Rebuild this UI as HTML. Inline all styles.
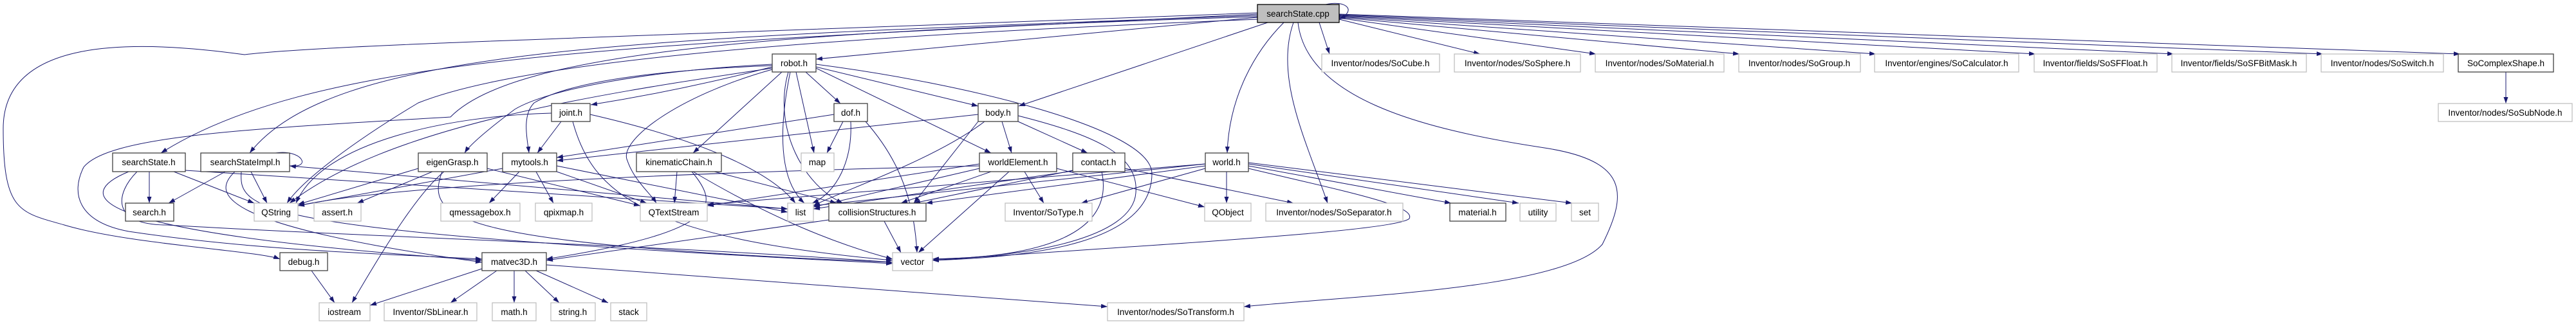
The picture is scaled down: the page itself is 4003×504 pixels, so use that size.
<!DOCTYPE html>
<html><head><meta charset="utf-8"><style>
html,body{margin:0;padding:0;background:#fff;}
svg{display:block;}
text{font-family:"Liberation Sans",sans-serif;font-size:13.5px;fill:#000;text-anchor:middle;}
.e{fill:none;stroke:#191970;stroke-width:1;marker-end:url(#a);}
.b{fill:#fff;stroke:#404040;stroke-width:1.3;}
.g{fill:#fff;stroke:#bfbfbf;stroke-width:1.3;}
</style></head><body>
<svg width="4003" height="504" viewBox="0 0 4003 504" xmlns="http://www.w3.org/2000/svg">
<defs><marker id="a" markerWidth="10" markerHeight="7" refX="10" refY="3.5" orient="auto" markerUnits="userSpaceOnUse"><path d="M0,0 L10,3.5 L0,7 z" fill="#191970"/></marker></defs>
<g>
<path class="e" d="M2050 35 L2066 84"/>
<path class="e" d="M2081 30 L2300 84"/>
<path class="e" d="M2081 28 L2480 84"/>
<path class="e" d="M2081 27 L2703 84"/>
<path class="e" d="M2081 26 L2915 84"/>
<path class="e" d="M2081 25 L3163 84"/>
<path class="e" d="M2081 24 L3378 84"/>
<path class="e" d="M2081 23 L3610 84"/>
<path class="e" d="M2081 22 L3823 84"/>
<path class="e" d="M3894 112 L3894 161"/>
<path class="e" d="M2060 7 C2090 0 2110 15 2081 30"/>
<path class="e" d="M1954 27 L1268 92"/>
<path class="e" d="M1970 35 L1583 165"/>
<path class="e" d="M1995 35 C1950 80 1910 150 1907 238"/>
<path class="e" d="M2010 35 C1980 120 2030 220 2063 316"/>
<path class="e" d="M2017 35 C2030 150 2200 200 2400 230 C2530 250 2530 300 2490 380 C2430 450 2100 460 1933 477"/>
<path class="e" d="M1954 22 C1000 70 500 80 250 238"/>
<path class="e" d="M1954 24 C1000 60 520 70 388 238"/>
<path class="e" d="M1954 20 C900 60 500 70 380 85 C200 60 5 60 5 200 C5 330 30 330 100 350 C200 380 400 390 435 403"/>
<path class="e" d="M1954 26 C1200 50 800 80 700 182 C400 200 170 210 130 260 C110 300 120 345 200 360 C400 390 600 395 749 403"/>
<path class="e" d="M1954 30 C1200 60 800 100 650 160 C550 220 470 280 446 316"/>
<path class="e" d="M1200 104 C1100 130 1000 150 918 163"/>
<path class="e" d="M1200 100 C1000 110 850 140 800 170 C760 200 730 225 722 238"/>
<path class="e" d="M1200 102 C1000 110 880 130 830 160 C810 180 820 220 822 238"/>
<path class="e" d="M1200 106 C900 150 600 200 450 316"/>
<path class="e" d="M1215 112 L1077 238"/>
<path class="e" d="M1237 112 L1265 238"/>
<path class="e" d="M1252 112 L1306 161"/>
<path class="e" d="M1228 112 C1210 200 1210 280 1250 316"/>
<path class="e" d="M1225 112 C1200 200 1250 290 1310 316"/>
<path class="e" d="M1200 108 C1050 150 960 220 975 250 C985 280 1010 300 1020 316"/>
<path class="e" d="M1268 100 C1500 130 1790 200 1790 270 C1790 380 1600 400 1449 405"/>
<path class="e" d="M1268 106 L1540 238"/>
<path class="e" d="M1268 104 L1520 165"/>
<path class="e" d="M872 189 L835 238"/>
<path class="e" d="M857 176 C700 180 500 220 460 316"/>
<path class="e" d="M917 178 C1100 220 1200 270 1236 316"/>
<path class="e" d="M890 189 C920 300 1000 370 1387 405"/>
<path class="e" d="M1310 189 L1285 238"/>
<path class="e" d="M1322 189 C1325 250 1300 300 1262 316"/>
<path class="e" d="M1296 178 L865 245"/>
<path class="e" d="M1345 189 C1390 240 1420 300 1425 393"/>
<path class="e" d="M1557 189 L1572 238"/>
<path class="e" d="M1582 189 L1690 238"/>
<path class="e" d="M1530 189 C1450 250 1300 300 1264 320"/>
<path class="e" d="M1520 189 L1420 316"/>
<path class="e" d="M1582 180 C1700 210 1770 240 1765 300 C1760 370 1600 400 1449 403"/>
<path class="e" d="M1520 178 L865 250"/>
<path class="e" d="M1592 267 L1622 316"/>
<path class="e" d="M1568 267 L1427 393"/>
<path class="e" d="M1540 267 L1400 316"/>
<path class="e" d="M1522 255 L1099 320"/>
<path class="e" d="M1522 258 C1000 270 600 290 463 320"/>
<path class="e" d="M1642 262 L1872 322"/>
<path class="e" d="M1522 262 L1264 322"/>
<path class="e" d="M1667 265 L1420 316"/>
<path class="e" d="M1712 267 C1730 350 1650 400 1449 403"/>
<path class="e" d="M1748 262 L2010 316"/>
<path class="e" d="M1667 266 L1264 325"/>
<path class="e" d="M1906 267 L1906 316"/>
<path class="e" d="M1873 262 L1680 316"/>
<path class="e" d="M1940 258 L2255 316"/>
<path class="e" d="M1940 255 L2360 316"/>
<path class="e" d="M1940 253 L2443 316"/>
<path class="e" d="M1940 262 C2100 300 2200 320 2190 340 C2170 360 1800 380 1449 405"/>
<path class="e" d="M1873 255 L1264 320"/>
<path class="e" d="M1873 258 L1439 316"/>
<path class="e" d="M1873 255 L1099 318"/>
<path class="e" d="M1052 267 L1048 316"/>
<path class="e" d="M1075 267 C1120 320 1120 360 849 403"/>
<path class="e" d="M1077 267 C1200 340 1300 380 1387 403"/>
<path class="e" d="M1110 267 L1300 316"/>
<path class="e" d="M807 267 L760 316"/>
<path class="e" d="M833 267 L860 316"/>
<path class="e" d="M865 267 L1005 316"/>
<path class="e" d="M781 262 L463 320"/>
<path class="e" d="M865 258 L1224 330"/>
<path class="e" d="M650 262 L463 318"/>
<path class="e" d="M672 267 L555 316"/>
<path class="e" d="M690 267 C650 300 600 380 547 471"/>
<path class="e" d="M687 267 C660 340 700 380 1387 408"/>
<path class="e" d="M757 262 L995 320"/>
<path class="e" d="M232 267 L232 316"/>
<path class="e" d="M270 267 L395 316"/>
<path class="e" d="M288 265 L1224 325"/>
<path class="e" d="M200 267 C120 300 100 360 749 405"/>
<path class="e" d="M213 267 C180 300 170 350 260 350 C600 370 1000 380 1387 408"/>
<path class="e" d="M428 238 C470 232 485 262 450 258"/>
<path class="e" d="M350 267 L262 316"/>
<path class="e" d="M390 267 L415 316"/>
<path class="e" d="M450 258 L1224 325"/>
<path class="e" d="M375 267 C370 330 400 360 1387 410"/>
<path class="e" d="M365 267 C330 300 330 350 749 408"/>
<path class="e" d="M1374 344 L1400 393"/>
<path class="e" d="M1288 342 L849 405"/>
<path class="e" d="M749 418 L575 475"/>
<path class="e" d="M772 421 L700 471"/>
<path class="e" d="M799 421 L799 471"/>
<path class="e" d="M816 421 L869 471"/>
<path class="e" d="M833 421 L945 471"/>
<path class="e" d="M849 412 L1721 477"/>
<path class="e" d="M484 421 L520 471"/>
</g>
<g>
<rect x="1954" y="7" width="127" height="28" fill="#bfbfbf" stroke="#000" stroke-width="1.3"/><text x="2017" y="26">searchState.cpp</text>
<rect class="b" x="1200" y="84" width="68" height="28"/><text x="1234" y="103">robot.h</text>
<rect class="g" x="2054" y="84" width="183" height="28"/><text x="2145" y="103">Inventor/nodes/SoCube.h</text>
<rect class="g" x="2260" y="84" width="196" height="28"/><text x="2358" y="103">Inventor/nodes/SoSphere.h</text>
<rect class="g" x="2479" y="84" width="200" height="28"/><text x="2579" y="103">Inventor/nodes/SoMaterial.h</text>
<rect class="g" x="2702" y="84" width="189" height="28"/><text x="2796" y="103">Inventor/nodes/SoGroup.h</text>
<rect class="g" x="2913" y="84" width="224" height="28"/><text x="3025" y="103">Inventor/engines/SoCalculator.h</text>
<rect class="g" x="3161" y="84" width="191" height="28"/><text x="3256" y="103">Inventor/fields/SoSFFloat.h</text>
<rect class="g" x="3375" y="84" width="209" height="28"/><text x="3479" y="103">Inventor/fields/SoSFBitMask.h</text>
<rect class="g" x="3607" y="84" width="190" height="28"/><text x="3702" y="103">Inventor/nodes/SoSwitch.h</text>
<rect class="b" x="3820" y="84" width="148" height="28"/><text x="3894" y="103">SoComplexShape.h</text>
<rect class="b" x="857" y="161" width="60" height="28"/><text x="887" y="180">joint.h</text>
<rect class="b" x="1296" y="161" width="52" height="28"/><text x="1322" y="180">dof.h</text>
<rect class="b" x="1520" y="161" width="62" height="28"/><text x="1551" y="180">body.h</text>
<rect class="g" x="3789" y="161" width="208" height="28"/><text x="3893" y="180">Inventor/nodes/SoSubNode.h</text>
<rect class="b" x="175" y="238" width="113" height="29"/><text x="231" y="257">searchState.h</text>
<rect class="b" x="312" y="238" width="138" height="29"/><text x="381" y="257">searchStateImpl.h</text>
<rect class="b" x="650" y="238" width="107" height="29"/><text x="703" y="257">eigenGrasp.h</text>
<rect class="b" x="781" y="238" width="84" height="29"/><text x="823" y="257">mytools.h</text>
<rect class="b" x="989" y="238" width="132" height="29"/><text x="1055" y="257">kinematicChain.h</text>
<rect class="g" x="1245" y="238" width="51" height="29"/><text x="1270" y="257">map</text>
<rect class="b" x="1522" y="238" width="120" height="29"/><text x="1582" y="257">worldElement.h</text>
<rect class="b" x="1667" y="238" width="81" height="29"/><text x="1707" y="257">contact.h</text>
<rect class="b" x="1873" y="238" width="67" height="29"/><text x="1906" y="257">world.h</text>
<rect class="b" x="195" y="316" width="75" height="28"/><text x="232" y="335">search.h</text>
<rect class="g" x="395" y="316" width="68" height="28"/><text x="429" y="335">QString</text>
<rect class="g" x="488" y="316" width="73" height="28"/><text x="524" y="335">assert.h</text>
<rect class="g" x="685" y="316" width="123" height="28"/><text x="746" y="335">qmessagebox.h</text>
<rect class="g" x="832" y="316" width="88" height="28"/><text x="876" y="335">qpixmap.h</text>
<rect class="g" x="995" y="316" width="104" height="28"/><text x="1047" y="335">QTextStream</text>
<rect class="g" x="1224" y="316" width="40" height="28"/><text x="1244" y="335">list</text>
<rect class="b" x="1288" y="316" width="151" height="28"/><text x="1363" y="335">collisionStructures.h</text>
<rect class="g" x="1562" y="316" width="135" height="28"/><text x="1629" y="335">Inventor/SoType.h</text>
<rect class="g" x="1872" y="316" width="72" height="28"/><text x="1908" y="335">QObject</text>
<rect class="g" x="1967" y="316" width="213" height="28"/><text x="2073" y="335">Inventor/nodes/SoSeparator.h</text>
<rect class="b" x="2253" y="316" width="87" height="28"/><text x="2296" y="335">material.h</text>
<rect class="g" x="2362" y="316" width="56" height="28"/><text x="2390" y="335">utility</text>
<rect class="g" x="2442" y="316" width="42" height="28"/><text x="2463" y="335">set</text>
<rect class="b" x="435" y="393" width="74" height="28"/><text x="472" y="412">debug.h</text>
<rect class="b" x="749" y="393" width="100" height="28"/><text x="799" y="412">matvec3D.h</text>
<rect class="g" x="1387" y="393" width="62" height="28"/><text x="1418" y="412">vector</text>
<rect class="g" x="496" y="471" width="79" height="28"/><text x="535" y="490">iostream</text>
<rect class="g" x="597" y="471" width="144" height="28"/><text x="669" y="490">Inventor/SbLinear.h</text>
<rect class="g" x="765" y="471" width="68" height="28"/><text x="799" y="490">math.h</text>
<rect class="g" x="856" y="471" width="69" height="28"/><text x="890" y="490">string.h</text>
<rect class="g" x="949" y="471" width="56" height="28"/><text x="977" y="490">stack</text>
<rect class="g" x="1721" y="471" width="212" height="28"/><text x="1827" y="490">Inventor/nodes/SoTransform.h</text>
</g>
</svg>
</body></html>
